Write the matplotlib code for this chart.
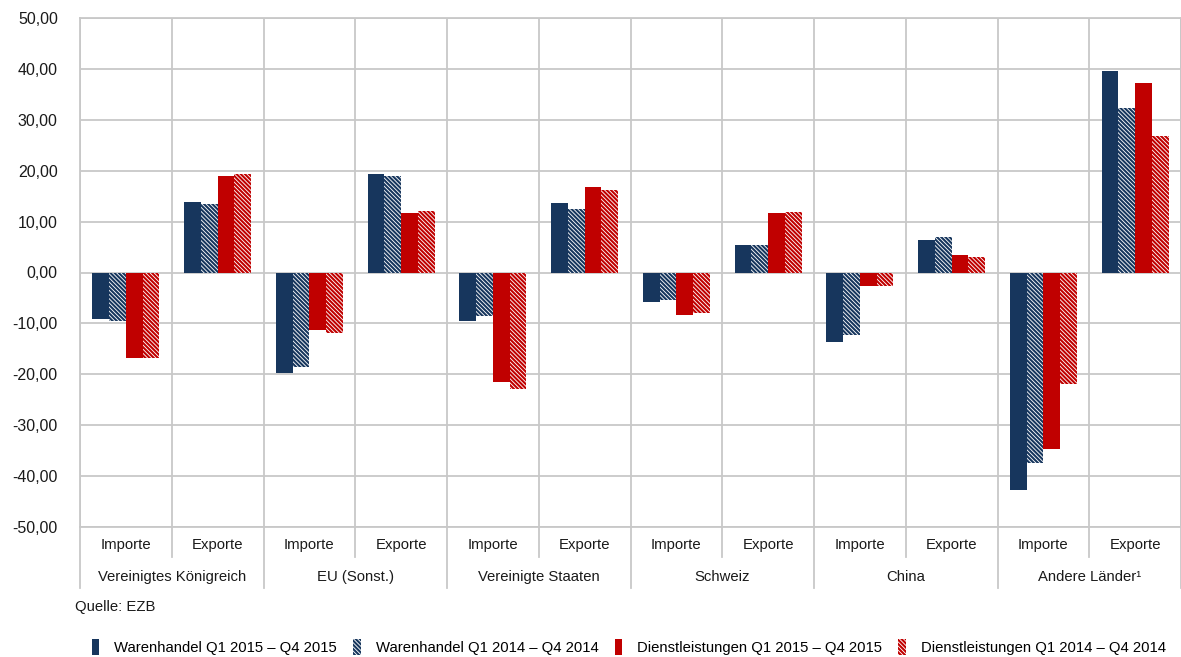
import matplotlib
matplotlib.use("Agg")
import matplotlib.pyplot as plt
import matplotlib.patches as mpatches
import matplotlib.transforms as mtransforms
from matplotlib.ticker import FuncFormatter, MultipleLocator
import numpy as np

# --- data ---
GROUPS = ["Vereinigtes Königreich", "EU (Sonst.)", "Vereinigte Staaten",
          "Schweiz", "China", "Andere Länder¹"]
FLOWS = ["Importe", "Exporte"]

waren_2015 = [-9.2, 13.8, -19.7, 19.3, -9.5, 13.7, -5.7, 5.4, -13.7, 6.4, -42.7, 39.5]
waren_2014 = [-9.5, 13.4, -18.6, 19.0, -8.5, 12.5, -5.5, 5.5, -12.2, 6.9, -37.5, 32.4]
dienst_2015 = [-16.8, 19.0, -11.3, 11.7, -21.5, 16.7, -8.3, 11.7, -2.7, 3.5, -34.6, 37.3]
dienst_2014 = [-16.7, 19.3, -11.8, 12.1, -22.8, 16.3, -8.0, 11.8, -2.6, 3.0, -22.0, 26.9]

SERIES_LABELS = ["Warenhandel Q1 2015 – Q4 2015", "Warenhandel Q1 2014 – Q4 2014",
                 "Dienstleistungen Q1 2015 – Q4 2015", "Dienstleistungen Q1 2014 – Q4 2014"]

NAVY = "#17365d"
RED = "#c00000"
GRID = "#c8c8c8"
HATCH = "\\" * 8

plt.rcParams["font.family"] = ["Liberation Sans", "DejaVu Sans"]
plt.rcParams["hatch.linewidth"] = 1.5

fig = plt.figure(figsize=(11.81, 6.57), dpi=100)
ax = fig.add_axes([80 / 1181, 1 - 527 / 657, 1 - 80 / 1181, 509 / 657])

n = len(waren_2015)
x = np.arange(n)
w = 0.183
series = [waren_2015, waren_2014, dienst_2015, dienst_2014]
styles = [
    dict(color=NAVY, linewidth=0),
    dict(facecolor="white", edgecolor=NAVY, hatch=HATCH, linewidth=0),
    dict(color=RED, linewidth=0),
    dict(facecolor="white", edgecolor=RED, hatch=HATCH, linewidth=0),
]
for i, (vals, st) in enumerate(zip(series, styles)):
    ax.bar(x + (i - 1.5) * w, vals, w, zorder=3, **st)

ax.set_xlim(-0.5, n - 0.5)
ax.set_ylim(-50, 50)
ax.yaxis.set_major_locator(MultipleLocator(10))
ax.yaxis.set_major_formatter(FuncFormatter(lambda v, p: f"{v:.2f}".replace(".", ",")))
ax.set_xticks(x)
ax.set_xticklabels([])
ax.set_xticks(np.arange(n + 1) - 0.5, minor=True)
ax.tick_params(axis="both", which="both", length=0)
ax.tick_params(axis="y", pad=16, labelsize=11.5, labelcolor="#1a1a1a")
ax.grid(axis="y", color=GRID, linewidth=1.3, zorder=0)
ax.grid(axis="x", which="minor", color=GRID, linewidth=1.3, zorder=0)
ax.grid(axis="x", which="major", visible=False)
for s in ax.spines.values():
    s.set_color(GRID)
    s.set_linewidth(1.3)

# category table below the axes
trans = mtransforms.blended_transform_factory(ax.transData, ax.transAxes)
for k in range(n):
    ax.text(x[k], -0.035, FLOWS[k % 2], transform=trans, ha="center", va="center",
            fontsize=10.7, color="#1a1a1a")
for g, name in enumerate(GROUPS):
    ax.text(2 * g + 0.5, -0.098, name, transform=trans, ha="center", va="center",
            fontsize=10.7, color="#1a1a1a")
for b in range(n + 1):
    depth = -0.12 if b % 2 == 0 else -0.059
    ax.plot([b - 0.5, b - 0.5], [0, depth], transform=trans, color=GRID,
            linewidth=1.3, clip_on=False)

fig.text(75 / 1181, 1 - 607 / 657, "Quelle: EZB", ha="left", va="center",
         fontsize=10.7, color="#1a1a1a")

handles = [mpatches.Patch(label=lab, **st) for lab, st in zip(SERIES_LABELS, styles)]
fig.legend(handles=handles, loc="center left", bbox_to_anchor=(92 / 1181, 1 - 647 / 657),
           ncol=4, frameon=False, fontsize=10.7, handlelength=0.5, handleheight=1.3,
           handletextpad=1.0, columnspacing=1.1, borderaxespad=0, borderpad=0)

fig.savefig("out.png", dpi=100)
